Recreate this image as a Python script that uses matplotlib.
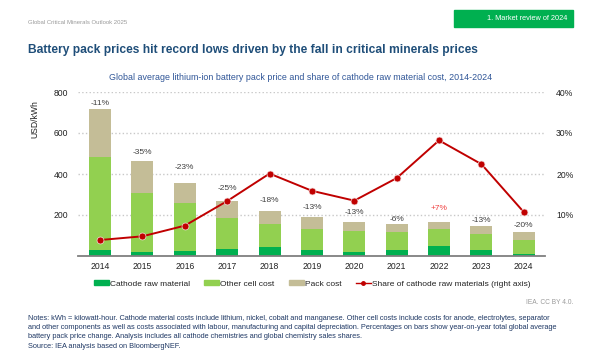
import matplotlib.pyplot as plt
import numpy as np
from matplotlib.patches import Patch, Rectangle
from matplotlib.lines import Line2D
from matplotlib.ticker import FuncFormatter

plt.rcParams['font.family'] = ['Liberation Sans', 'DejaVu Sans']

# dati (USD/kWh)
anni = ['2014', '2015', '2016', '2017', '2018', '2019', '2020', '2021', '2022', '2023', '2024']
catodo = [28, 20, 24, 34, 44, 29, 21, 28, 47, 31, 11]
altre_celle = [456, 289, 233, 153, 112, 103, 101, 89, 85, 78, 66]
pacco = [231, 154, 99, 80, 62, 57, 42, 39, 34, 36, 39]
quota = [3.9, 4.8, 7.4, 13.4, 20.1, 15.9, 13.5, 19.0, 28.2, 22.4, 10.7]
variazioni = ['-11%', '-35%', '-23%', '-25%', '-18%', '-13%', '-13%', '-6%', '+7%', '-13%', '-20%']
spostamento = [6, 9, 16, 13, 11, 10, 10, 5, 13, 6, 7]

verde_scuro = '#00b050'
verde_chiaro = '#92d050'
beige = '#c4bd97'
rosso = '#c00000'
blu = '#1f4e79'

fig = plt.figure(figsize=(6.02, 3.57), dpi=100)

# intestazione
fig.text(28 / 602, 1 - 22 / 357, 'Global Critical Minerals Outlook 2025', fontsize=4.3,
         color='#9a9a9a', va='center')
fig.patches.append(Rectangle((454 / 602, 1 - 27 / 357), 119 / 602, 17 / 357,
                             transform=fig.transFigure, color='#00b050'))
fig.text(567 / 602, 1 - 18.5 / 357, '1. Market review of 2024', fontsize=5.3, color='white',
         ha='right', va='center')
fig.text(28 / 602, 1 - 50 / 357,
         'Battery pack prices hit record lows driven by the fall in critical minerals prices',
         fontsize=8.65, fontweight='bold', color=blu, va='center')
fig.text(301 / 602, 1 - 77 / 357,
         'Global average lithium-ion battery pack price and share of cathode raw material cost, 2014-2024',
         fontsize=6.4, color='#2f5597', ha='center', va='center')

ax = fig.add_axes([78 / 602, 1 - 256 / 357, 467 / 602, 164 / 357])
x = np.arange(len(anni))
larghezza = 0.52
ax.bar(x, catodo, larghezza, color=verde_scuro, zorder=2)
ax.bar(x, altre_celle, larghezza, bottom=catodo, color=verde_chiaro, zorder=2)
base = np.array(catodo) + np.array(altre_celle)
ax.bar(x, pacco, larghezza, bottom=base, color=beige, zorder=2)
totale = base + np.array(pacco)

for i in range(len(anni)):
    colore = '#f04040' if variazioni[i].startswith('+') else '#404040'
    ax.annotate(variazioni[i], (x[i], totale[i]), xytext=(0, spostamento[i]),
                textcoords='offset pixels', ha='center', va='center', fontsize=6, color=colore)

ax.set_xlim(-0.52, 10.5)
ax.set_ylim(0, 800)
ax.set_yticks([200, 400, 600, 800])
ax.set_xticks(x)
ax.set_xticklabels(anni)
ax.tick_params(axis='both', length=0, labelsize=6.2, colors='#222222')
ax.tick_params(axis='y', pad=7)
ax.tick_params(axis='x', pad=4)
ax.grid(axis='y', linestyle=':', color='#c8c8c8', linewidth=1, zorder=0)
for s in ['top', 'right', 'left']:
    ax.spines[s].set_visible(False)
ax.spines['bottom'].set_color('#7f7f7f')
ax.spines['bottom'].set_linewidth(1.3)
ax.spines['bottom'].set_zorder(3)

fig.text(35 / 602, 1 - 119 / 357, 'USD/kWh', rotation=90, fontsize=6.2, color='#222222',
         ha='center', va='center')

ax2 = ax.twinx()
ax2.plot(x, np.array(quota) / 100, color=rosso, linewidth=1.4, marker='o', markersize=5,
         markeredgecolor='#f4dcdc', markeredgewidth=0.5, zorder=4)
ax2.set_ylim(0, 0.4)
ax2.set_yticks([0.1, 0.2, 0.3, 0.4])
ax2.yaxis.set_major_formatter(FuncFormatter(lambda v, p: f'{v * 100:.0f}%'))
ax2.tick_params(axis='y', length=0, labelsize=6.2, colors='#222222', pad=8)
for s in ax2.spines.values():
    s.set_visible(False)

maniglie = [
    Patch(color=verde_scuro, label='Cathode raw material'),
    Patch(color=verde_chiaro, label='Other cell cost'),
    Patch(color=beige, label='Pack cost'),
    Line2D([0], [0], color=rosso, linewidth=1, marker='o', markersize=2.5,
           label='Share of cathode raw materials (right axis)'),
]
fig.legend(handles=maniglie, loc='center', bbox_to_anchor=(312 / 602, 1 - 284 / 357), ncol=4,
           frameon=False, fontsize=6, handlelength=1.8, handleheight=0.55, handletextpad=0.15,
           columnspacing=1.7, labelcolor='#222222')

fig.text(573 / 602, 1 - 302 / 357, 'IEA. CC BY 4.0.', fontsize=4.8, color='#9a9a9a',
         ha='right', va='center')

note = ('Notes: kWh = kilowatt-hour. Cathode material costs include lithium, nickel, cobalt and manganese. '
        'Other cell costs include costs for anode, electrolytes, separator\n'
        'and other components as well as costs associated with labour, manufacturing and capital depreciation. '
        'Percentages on bars show year-on-year total global average\n'
        'battery pack price change. Analysis includes all cathode chemistries and global chemistry sales shares.')
fig.text(28 / 602, 1 - 315.5 / 357, note, fontsize=5.35, color='#1f3864', va='top', linespacing=1.35)
fig.text(28 / 602, 1 - 346 / 357, 'Source: IEA analysis based on BloombergNEF.', fontsize=5.35,
         color='#1f3864', va='center')

fig.savefig('out.png', dpi=100)
